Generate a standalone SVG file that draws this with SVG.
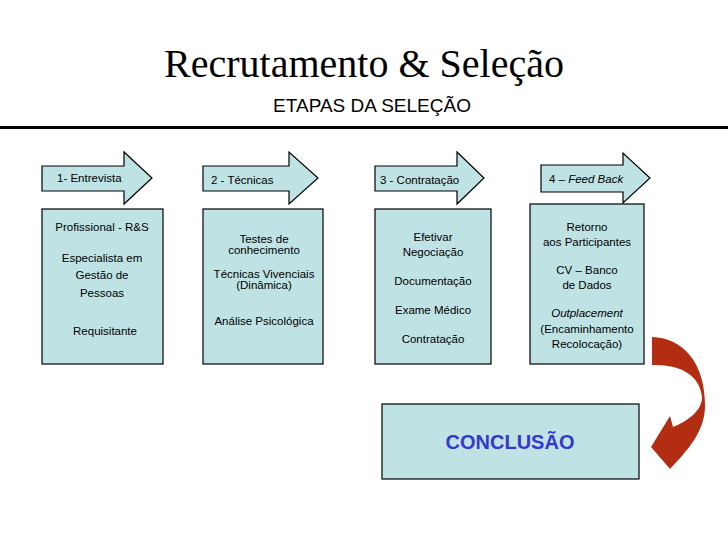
<svg xmlns="http://www.w3.org/2000/svg" width="728" height="546" viewBox="0 0 728 546">
<style>
.box{fill:#bfe3e4;stroke:#000;stroke-width:1.2}
.t{font-family:"Liberation Sans",Arial,sans-serif;font-size:11.5px;fill:#000;text-anchor:middle}
.l{font-family:"Liberation Sans",Arial,sans-serif;font-size:11.5px;fill:#000}
</style>
<rect width="728" height="546" fill="#fff"/>
<text x="364" y="77" font-family="Liberation Serif,Times New Roman,serif" font-size="40" text-anchor="middle">Recrutamento &amp; Seleção</text>
<text x="372" y="112" font-family="Liberation Sans,Arial,sans-serif" font-size="19" text-anchor="middle">ETAPAS DA SELEÇÃO</text>
<rect x="0" y="126" width="728" height="3" fill="#000"/>
<g id="step1">
<path class="box" d="M42,166 H124 V152 L152,178 L124,204 V191 H42 Z"/>
<text class="l" x="57" y="182">1- Entrevista</text>
<rect class="box" x="42" y="209" width="121" height="155"/>
<text class="t" x="102" y="231">Profissional - R&amp;S</text>
<text class="t" x="102" y="262">Especialista em</text>
<text class="t" x="102" y="279">Gestão de</text>
<text class="t" x="102" y="297">Pessoas</text>
<text class="t" x="105" y="335">Requisitante</text>
</g>
<g id="step2">
<path class="box" d="M203,166 H289 V152 L318,178 L289,204 V191 H203 Z"/>
<text class="l" x="211" y="184">2 - Técnicas</text>
<rect class="box" x="203" y="209" width="120" height="155"/>
<text class="t" x="264" y="243">Testes de</text>
<text class="t" x="264" y="254">conhecimento</text>
<text class="t" x="264" y="278">Técnicas Vivenciais</text>
<text class="t" x="264" y="289">(Dinâmica)</text>
<text class="t" x="264" y="325">Análise Psicológica</text>
</g>
<g id="step3">
<path class="box" d="M375,166 H457 V152 L484,178 L457,204 V191 H375 Z"/>
<text class="l" x="380" y="184">3 - Contratação</text>
<rect class="box" x="375" y="209" width="116" height="155"/>
<text class="t" x="433" y="241">Efetivar</text>
<text class="t" x="433" y="256">Negociação</text>
<text class="t" x="433" y="285">Documentação</text>
<text class="t" x="433" y="314">Exame Médico</text>
<text class="t" x="433" y="343">Contratação</text>
</g>
<g id="step4">
<path class="box" d="M541,165 H623 V153 L650,178 L623,203 V192 H541 Z"/>
<text class="l" x="549" y="183">4 – <tspan font-style="italic">Feed Back</tspan></text>
<rect class="box" x="530" y="204" width="114" height="160"/>
<text class="t" x="587" y="231">Retorno</text>
<text class="t" x="587" y="246">aos Participantes</text>
<text class="t" x="587" y="274">CV – Banco</text>
<text class="t" x="587" y="289">de Dados</text>
<text class="t" x="587" y="317" font-style="italic">Outplacement</text>
<text class="t" x="587" y="333">(Encaminhamento</text>
<text class="t" x="587" y="348">Recolocação)</text>
</g>
<g id="conclusao">
<rect class="box" x="382" y="404" width="257" height="75"/>
<text x="510" y="449" font-family="Liberation Sans,Arial,sans-serif" font-size="20" font-weight="bold" fill="#3636d0" text-anchor="middle">CONCLUSÃO</text>
</g>
<g id="connectors">
<path fill="#b32d12" d="M652,337 C685,338 705,365 705,405 C705,428 693,445 670,469 L651,447 L670,416 L673,427 C690,420 702,410 702,397 C700,375 680,364 652,365 Z"/>
</g>
</svg>
